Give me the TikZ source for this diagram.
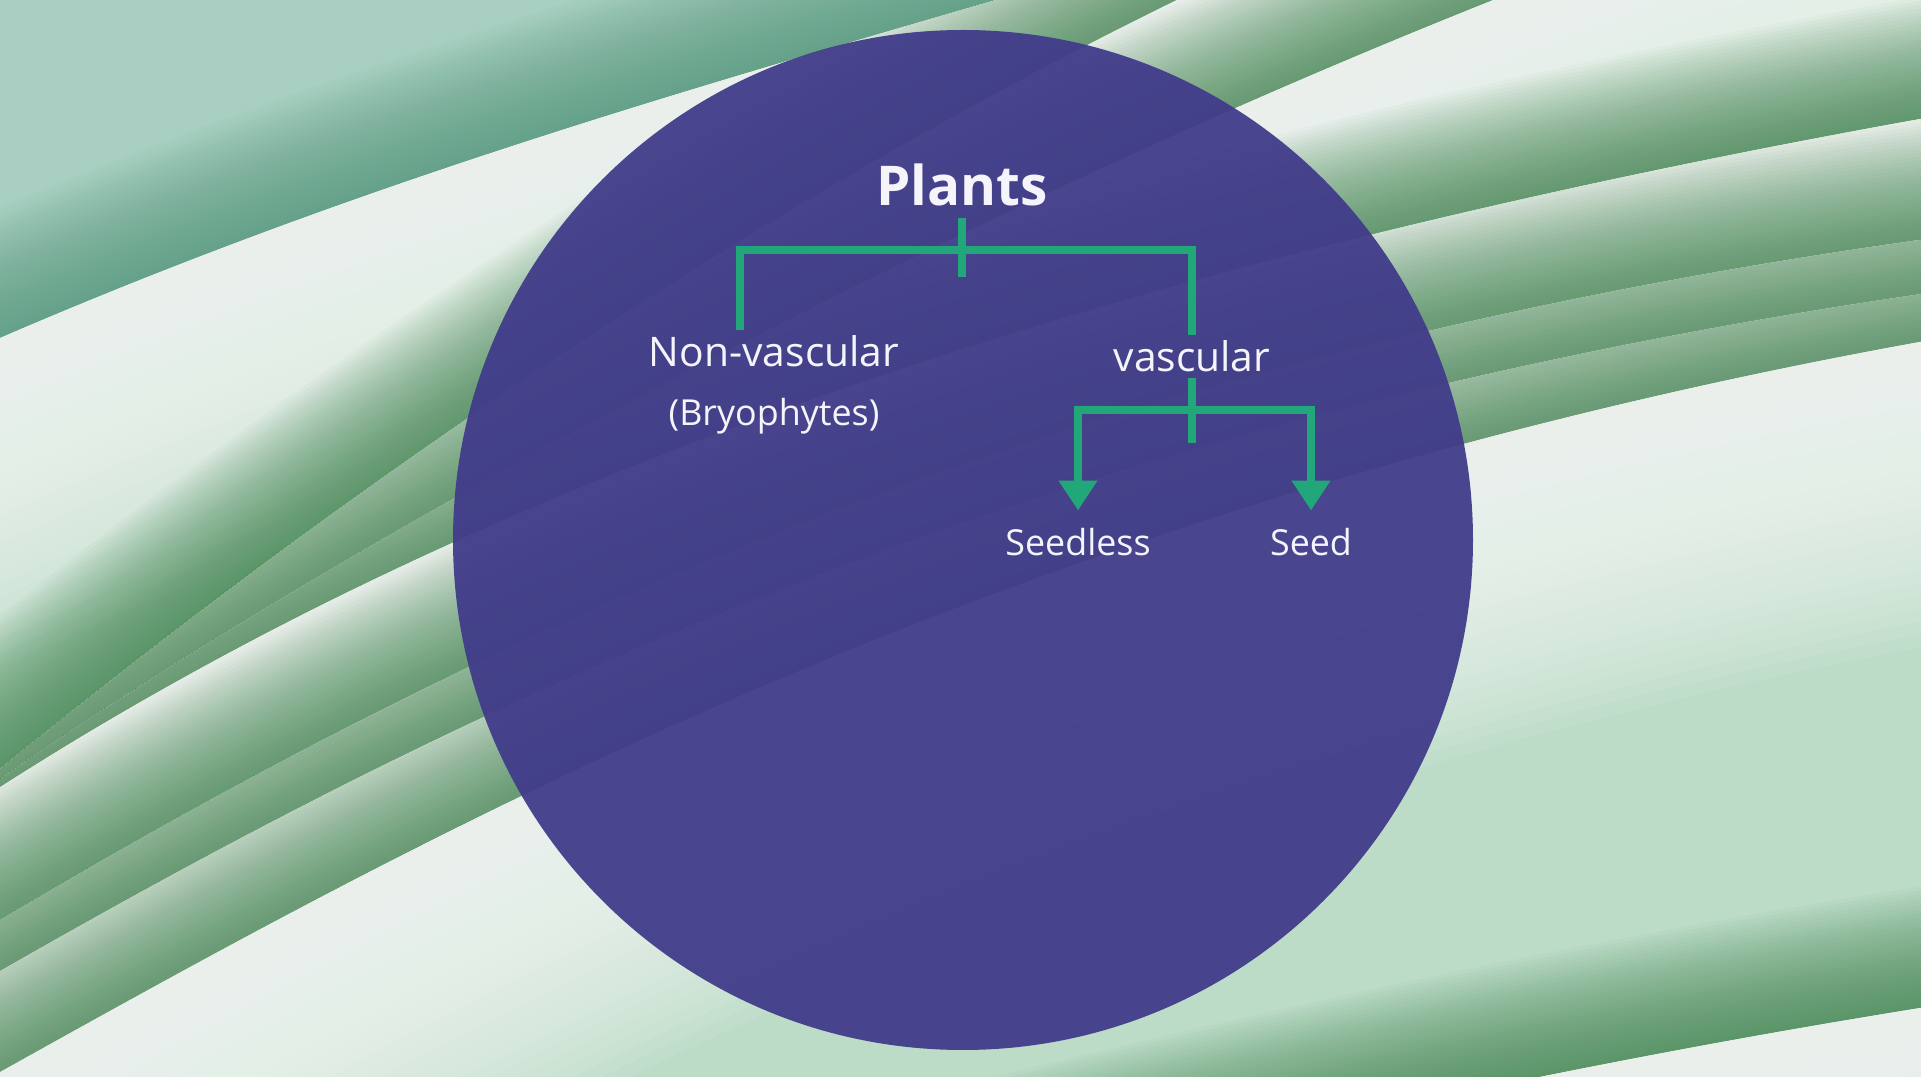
\documentclass[tikz,border=0pt]{standalone}
\usepackage{fontspec}
\setmainfont{Open Sans}
\usetikzlibrary{positioning,arrows.meta}

\definecolor{discfill}{HTML}{413C8A}
\definecolor{branchgreen}{HTML}{22A77A}
\definecolor{bgteal}{HTML}{A8CFC1}
\definecolor{bgtealshade}{HTML}{4F9478}
\definecolor{bgmint}{HTML}{BCDCC8}
\definecolor{bgwhite}{HTML}{F6FAF7}
\definecolor{bgshade}{HTML}{3C824B}
\definecolor{labeltext}{HTML}{F4F4FA}

% one fabric ribbon below edge #1, shadowed by the next edge #2
\newcommand{\ribbon}[2]{%
  \begin{scope}[line join=round]
    \clip #1 -- (21,20) -- (-10,20) -- cycle;
    \fill[bgmint] (-1,-5) rectangle (21,12);
    \foreach \w in {2.5,5,...,60} \draw[bgwhite,opacity=0.09,line width=\w mm] #1;
    \foreach \w in {0.75,1.5,...,24} \draw[bgshade,opacity=0.034,line width=\w mm] #2;
  \end{scope}}

\tikzset{
  title/.style={text=labeltext,anchor=base,inner sep=3pt,font=\fontsize{15.6}{18}\selectfont\bfseries},
  group/.style={text=labeltext,anchor=base,inner sep=1.5pt,font=\fontsize{11.6}{14}\selectfont},
  leaf/.style={text=labeltext,anchor=base,inner sep=5pt,font=\fontsize{10.2}{12}\selectfont},
  branch/.style={branchgreen,line width=2.3pt},
  tip/.style={-{Triangle[width=10.5pt,length=8.5pt]}},
}

\begin{document}
\begin{tikzpicture}[x=1cm,y=-1cm]
\useasboundingbox (0,0) rectangle (19.21,10.77);

% background cloth
\begin{scope}
\clip (0,0) rectangle (19.21,10.77);
\fill[bgteal] (0,0) rectangle (19.21,10.77);
\foreach \w in {0.75,1.5,...,24} \draw[bgtealshade,opacity=0.03,line width=\w mm] (-9.5,7.6) -- (-0.5,3.6) .. controls (4,1.6) and (8,0.6) .. (12,-0.6) -- (21,-4);
\ribbon{(-9.5,7.6) -- (-0.5,3.6) .. controls (4,1.6) and (8,0.6) .. (12,-0.6) -- (21,-4)}{(-7.5,13.9) -- (-0.5,8.1) .. controls (3,5.2) and (8,1.6) .. (13.5,-0.8) -- (21,-4)}
\ribbon{(-7.5,13.9) -- (-0.5,8.1) .. controls (3,5.2) and (8,1.6) .. (13.5,-0.8) -- (21,-4)}{(-7.5,13.25) -- (-0.5,8.15) .. controls (3,5.6) and (10,1.8) .. (16.5,-0.6) -- (21,-2)}
\ribbon{(-7.5,13.25) -- (-0.5,8.15) .. controls (3,5.6) and (10,1.8) .. (16.5,-0.6) -- (21,-2)}{(-9.5,14.2) -- (-0.5,8.2) .. controls (4,5.2) and (10,2.8) .. (19.71,1.1) -- (21,1.0)}
\ribbon{(-9.5,14.2) -- (-0.5,8.2) .. controls (4,5.2) and (10,2.8) .. (19.71,1.1) -- (21,1.0)}{(-9.5,14.9) -- (-0.5,9.5) .. controls (4,6.8) and (10,3.6) .. (19.71,2.33) -- (21,2.2)}
\ribbon{(-9.5,14.9) -- (-0.5,9.5) .. controls (4,6.8) and (10,3.6) .. (19.71,2.33) -- (21,2.2)}{(-9.5,15.2) -- (-0.5,10.0) .. controls (4,7.4) and (10,4.2) .. (19.71,2.87) -- (21,2.8)}
\ribbon{(-9.5,15.2) -- (-0.5,10.0) .. controls (4,7.4) and (10,4.2) .. (19.71,2.87) -- (21,2.8)}{(-9.5,16) -- (-0.5,11.0) .. controls (4,8.5) and (10,5.0) .. (19.71,3.33) -- (21,3.2)}
\ribbon{(-9.5,16) -- (-0.5,11.0) .. controls (4,8.5) and (10,5.0) .. (19.71,3.33) -- (21,3.2)}{(-2,15.1) -- (8,12.5) .. controls (13,11.2) and (16.5,10.5) .. (19.71,10.0) -- (21,9.8)}
\ribbon{(-2,15.1) -- (8,12.5) .. controls (13,11.2) and (16.5,10.5) .. (19.71,10.0) -- (21,9.8)}{(30,30) -- (31,30)}
\end{scope}

% disc
\fill[discfill,opacity=0.95] (9.63,5.40) circle (5.10);

% tree
\node[title] (plants) at (9.62,2.06) {Plants};
\node[group] (nonvasc) at (7.74,3.67) {Non-vascular};
\node[leaf,inner sep=1.5pt] (bryo) at (7.74,4.26) {(Bryophytes)};
\node[group] (vasc) at (11.92,3.72) {vascular};
\node[leaf] (seedless) at (10.78,5.56) {Seedless};
\node[leaf] (seed) at (13.11,5.56) {Seed};

\coordinate (lefttop) at (7.40,2.50);
\coordinate (fork) at (9.62,2.50);
\coordinate (forkend) at (9.62,2.77);
\coordinate (vfork) at (11.92,4.10);
\coordinate (vforkend) at (11.92,4.43);

\draw[branch] (plants.south) -- (forkend);
\draw[branch] (lefttop |- nonvasc.north) |- (fork) -| (vasc.north);
\draw[branch] (vasc.south) -- (vforkend);
\draw[branch,tip] (vfork) -| (seedless.north);
\draw[branch,tip] (vfork) -| (seed.north);
\end{tikzpicture}
\end{document}
